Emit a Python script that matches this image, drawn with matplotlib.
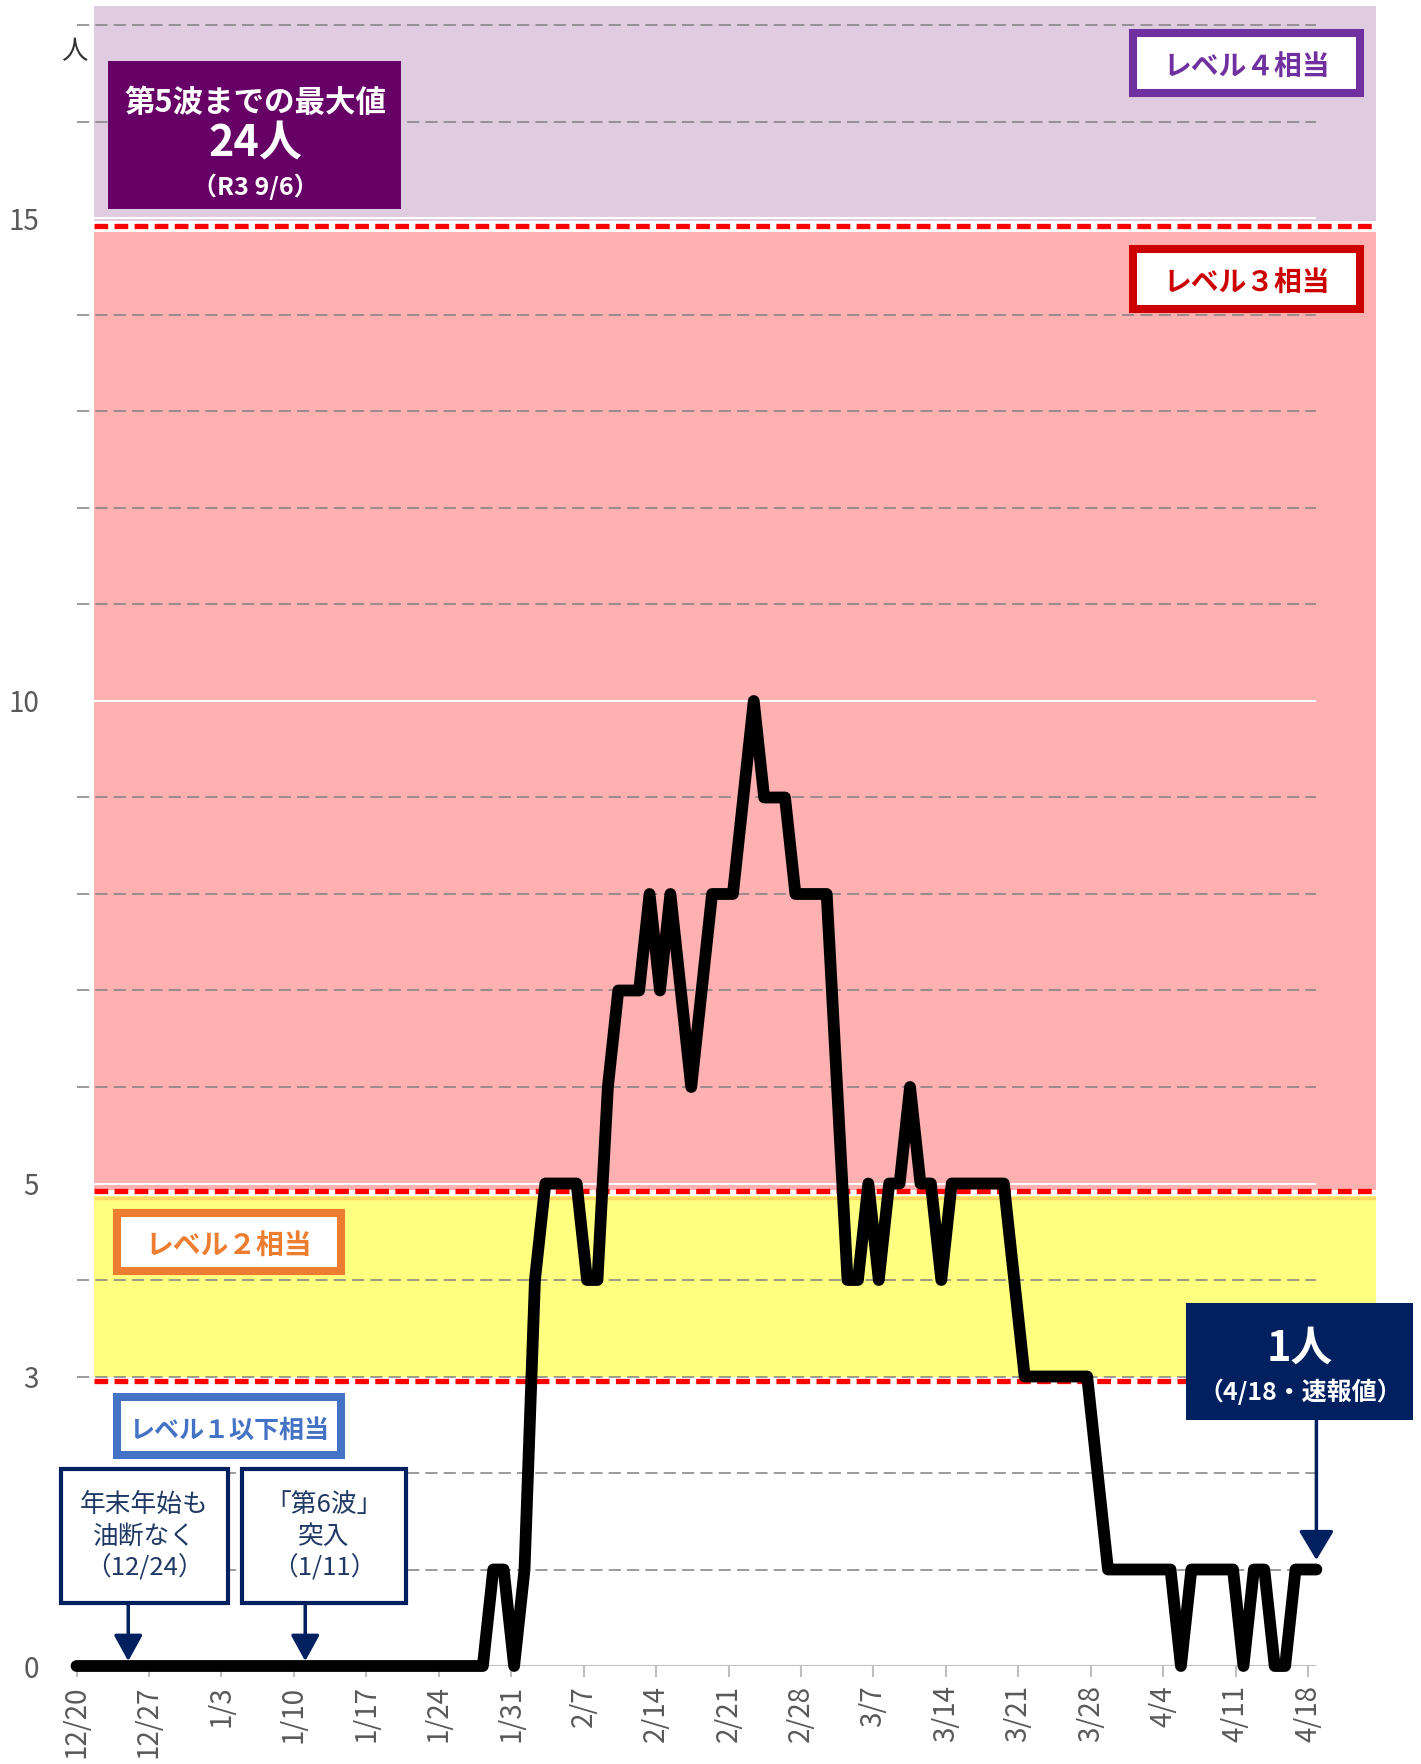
import numpy as np
import matplotlib.pyplot as plt
from matplotlib.patches import Rectangle

plt.rcParams['font.family'] = ['Noto Sans CJK JP', 'DejaVu Sans']

# daily values 12/20 .. 4/18
cases = [0, 0, 0, 0, 0, 0, 0, 0, 0, 0,
         0, 0, 0, 0, 0, 0, 0, 0, 0, 0,
         0, 0, 0, 0, 0, 0, 0, 0, 0, 0,
         0, 0, 0, 0, 0, 0, 0, 0, 0, 0,
         1, 1, 0, 1, 4, 5, 5, 5, 5, 4,
         4, 6, 7, 7, 7, 8, 7, 8, 7, 6,
         7, 8, 8, 8, 9, 10, 9, 9, 9, 8,
         8, 8, 8, 6, 4, 4, 5, 4, 5, 5,
         6, 5, 5, 4, 5, 5, 5, 5, 5, 5,
         4, 3, 3, 3, 3, 3, 3, 3, 2, 1,
         1, 1, 1, 1, 1, 1, 0, 1, 1, 1,
         1, 1, 0, 1, 1, 0, 0, 1, 1, 1]
tick_labels = ["12/20", "12/27", "1/3", "1/10", "1/17", "1/24", "1/31", "2/7", "2/14",
               "2/21", "2/28", "3/7", "3/14", "3/21", "3/28", "4/4", "4/11", "4/18"]
y_labels = [0, 3, 5, 10, 15]
level_lines = [14.92, 4.92, 2.95]
days = np.arange(len(cases))

W, H = 1421, 1764
fig = plt.figure(figsize=(W / 100, H / 100), dpi=100)
ax = fig.add_axes([76.5 / W, 98 / H, 1299.5 / W, 1659.8 / H])
XMAX, YMAX = 125.56, 17.2
ax.set_xlim(0, XMAX)
ax.set_ylim(0, YMAX)
for s in ax.spines.values():
    s.set_visible(False)
x_end = 119.8
x_band = 1.69
# the original line runs a little wider than the tick spacing (last point sits at plot edge)
xs = days * (x_end / days[-1])

# level bands
ax.add_patch(Rectangle((x_band, 14.97), XMAX - x_band, YMAX - 14.97, fc='#E0CCE0', ec='none', zorder=0))
ax.add_patch(Rectangle((x_band, 4.93), XMAX - x_band, 14.86 - 4.93, fc='#FFB0B0', ec='none', zorder=0))
ax.add_patch(Rectangle((x_band, 3.0), XMAX - x_band, 4.87 - 3.0, fc='#FFFF80', ec='none', zorder=0))
ax.hlines(4.85, x_band, XMAX, color='#FFD966', lw=2.5, zorder=0.5)

# gridlines
for v in range(1, 18):
    if v in (5, 10, 15):
        ax.hlines(v, 0, x_end, color='white', lw=1.5, zorder=1)
    else:
        ax.hlines(v, 0, x_end, color='#808080', lw=1.1, linestyles=(0, (8, 4)), zorder=1)
ax.hlines(0, 0, x_end, color='#BFBFBF', lw=1.5, zorder=1)

for v in level_lines:
    ax.plot([x_band, XMAX], [v, v], color='#FF0000', lw=3.8, ls=(0, (2.6, 1.2)),
            dash_capstyle='butt', zorder=2)

ax.plot(xs, cases, color='black', lw=8.5, solid_joinstyle='round',
        solid_capstyle='round', zorder=5, clip_on=False)

ax.set_xticks(range(0, 120, 7))
ax.set_xticklabels(tick_labels, rotation=90, fontsize=20, color='#595959')
ax.tick_params(axis='x', length=8, width=1.5, color='#BFBFBF', pad=6)
ax.set_yticks(y_labels)
ax.set_yticklabels([str(v) for v in y_labels], fontsize=20, color='#595959')
ax.tick_params(axis='y', length=0, pad=27)


def px_rect(x0, y0, x1, y1, **kw):
    r = Rectangle((x0 / W, 1 - y1 / H), (x1 - x0) / W, (y1 - y0) / H,
                  transform=fig.transFigure, zorder=10, **kw)
    fig.add_artist(r)


def px_text(x, y, s, **kw):
    fig.text(x / W, 1 - y / H, s, ha='center', va='center', zorder=11, **kw)


def val(ypx):
    return (1666 - ypx) / 96.5


px_text(74, 52, '人', fontsize=19, color='#333333')

# max box
px_rect(108, 61, 401, 209, fc='#660066', ec='none')
px_text(255, 103, '第5波までの最大値', fontsize=22, weight='bold', color='white')
px_text(255, 144, '24人', fontsize=31, weight='bold', color='white')
px_text(255, 187, '（R3 9/6）', fontsize=18, weight='bold', color='white')

# level labels
levels = [((1133, 33, 1360, 93), 'レベル４相当', '#7030A0', 20),
          ((1133, 249, 1360, 309), 'レベル３相当', '#CC0000', 20),
          ((116.5, 1213, 341, 1271), 'レベル２相当', '#ED7D31', 20),
          ((116.5, 1397, 341, 1455), 'レベル１以下相当', '#4472C4', 18)]
for (x0, y0, x1, y1), txt, col, fs in levels:
    px_rect(x0, y0, x1, y1, fc='white', ec=col, lw=5.8)
    px_text((x0 + x1) / 2, (y0 + y1) / 2 + 4.5, txt, fontsize=fs, weight='bold', color=col)

# notes
navy = '#002060'
notes = [((61, 1469, 228, 1603), ['年末年始も', '油断なく', '（12/24）'], 5.0),
         ((242, 1469, 406, 1603), ['「第6波」', '突入', '（1/11）'], 22.1)]
for (x0, y0, x1, y1), lines, xa in notes:
    px_rect(x0, y0, x1, y1, fc='white', ec=navy, lw=3)
    for k, t in enumerate(lines):
        px_text((x0 + x1) / 2, 1505 + 31.5 * k, t, fontsize=18.5, color='#1F3864')
    ax.annotate('', xy=(xa, 0.05), xytext=(xa, val(1605)),
                arrowprops=dict(arrowstyle='-|>,head_length=1.0,head_width=0.55',
                                mutation_scale=16, color=navy, lw=2.5,
                                shrinkA=0, shrinkB=0), zorder=9)

# latest value box
px_rect(1186, 1303, 1413, 1420, fc=navy, ec='none')
px_text(1300, 1349, '1人', fontsize=30, weight='bold', color='white')
px_text(1300, 1392, '（4/18・速報値）', fontsize=18, weight='bold', color='white')
ax.annotate('', xy=(xs[-1], val(1560)), xytext=(xs[-1], val(1420)),
            arrowprops=dict(arrowstyle='-|>,head_length=1.0,head_width=0.6',
                            mutation_scale=18, color=navy, lw=2.5,
                            shrinkA=0, shrinkB=0), zorder=9, annotation_clip=False)

fig.savefig('out.png', dpi=100)
